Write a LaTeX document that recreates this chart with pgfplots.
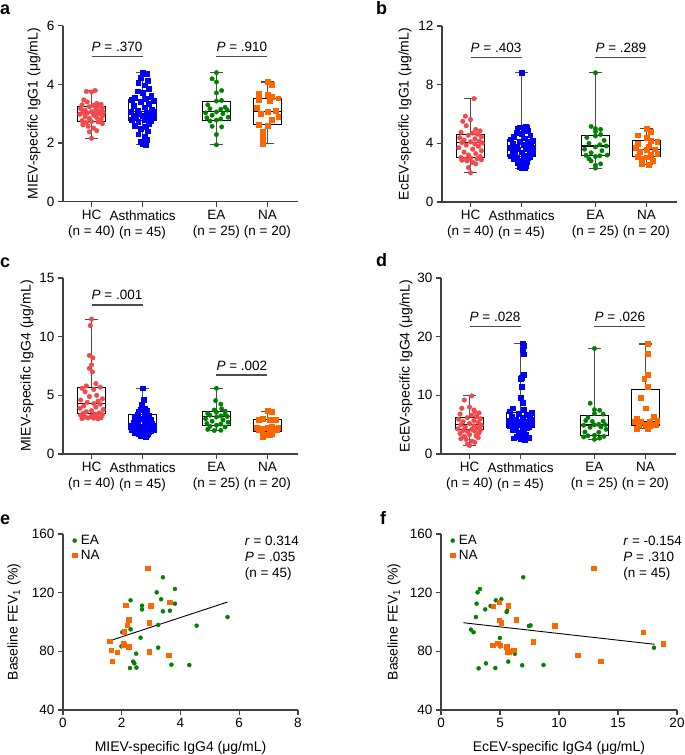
\documentclass[border=0pt]{standalone}
\usepackage{fontspec}
\setmainfont{Liberation Sans}
\usepackage{pgfplots}
\pgfplotsset{compat=1.18}
\usepgfplotslibrary{statistics}
\definecolor{cred}{RGB}{243,72,76}
\definecolor{cblue}{RGB}{0,0,250}
\definecolor{cgreen}{RGB}{0,128,0}
\definecolor{corange}{RGB}{255,102,0}
\newcommand{\fs}{\fontsize{13.5}{16}\selectfont}
\pgfplotsset{
  base/.style={scale only axis, width=235pt, height=176pt, anchor=south west,
    axis lines*=left, tick pos=left,
    axis line style={-, line width=1.1pt, draw=black!75},
    tick align=outside, major tick length=5pt, tick style={line width=1.1pt, black!75},
    tick label style={font=\fs}, label style={font=\fontsize{14}{16}\selectfont},
    /pgf/number format/assume math mode=true, clip=false},
  ylx/.style={ylabel style={at={(axis description cs:#1,0.5)}, anchor=center}},
  boxax/.style={base, xmin=0.44, xmax=5.05, ymin=0, xtick={1,2,3.45,4.45},
    xticklabels={{HC\\(n = 40)},{Asthmatics\\(n = 45)},{EA\\(n = 25)},{NA\\(n = 20)}},
    xticklabel style={align=center}},
  hcm/.style={only marks, mark=*, mark size=2.3pt, color=cred},
  asm/.style={only marks, mark=square*, mark size=2.4pt, color=cblue},
  eam/.style={only marks, mark=*, mark size=2.2pt, color=cgreen},
  nam/.style={only marks, mark=square*, mark size=2.4pt, color=corange},
  eas/.style={only marks, mark=*, mark size=2pt, color=cgreen},
  nas/.style={only marks, mark=square*, mark size=2.3pt, color=corange},
  scax/.style={base, ymin=40, ymax=160, ytick={40,80,120,160},
    ylabel={Baseline FEV\textsubscript{1} (\%)},
    xlabel style={at={(axis description cs:0.5,-0.216)}, anchor=center},
    legend style={at={(0.031,1.0)}, anchor=north west, draw=none, fill=none, font=\fs,
      row sep=2pt, inner sep=0pt, nodes={inner sep=1pt}},
    legend cell align=left,
    legend image code/.code={\path (0pt,0pt) (9pt,0pt); \draw[##1] plot coordinates {(4pt,0pt)};}},
}
\newcommand{\pts}[3]{\addplot[#1] table[row sep=\\, x expr=\thisrow{d}*0.85+#2, y=v]{#3};}
\newcommand{\bx}[6]{\addplot[draw=black, line width=1.1pt, boxplot/draw direction=y,
  boxplot/every whisker/.style={draw=black!70},
  boxplot prepared={draw position=#1, lower whisker=#2, lower quartile=#3, median=#4,
  upper quartile=#5, upper whisker=#6, box extend=0.55, whisker extend=0.25}] coordinates {};}
\newcommand{\pbar}[4]{\draw[line width=1.1pt, black!70] (axis cs:#1,#3) -- (axis cs:#2,#3);
  \node[anchor=base, font=\fs, inner sep=0pt, yshift=5pt] at (axis cs:{#1/2+#2/2},#3) {\textit{P} = #4};}
\begin{document}
\begin{tikzpicture}
\useasboundingbox (0,0) rectangle (685pt,755pt);
\node[anchor=base west, inner sep=0pt, font=\fontsize{18}{18}\selectfont\bfseries] at (0pt,740pt) {a};
\node[anchor=base west, inner sep=0pt, font=\fontsize{18}{18}\selectfont\bfseries] at (376pt,740pt) {b};
\node[anchor=base west, inner sep=0pt, font=\fontsize{18}{18}\selectfont\bfseries] at (0pt,487pt) {c};
\node[anchor=base west, inner sep=0pt, font=\fontsize{18}{18}\selectfont\bfseries] at (376pt,488pt) {d};
\node[anchor=base west, inner sep=0pt, font=\fontsize{18}{18}\selectfont\bfseries] at (0pt,230pt) {e};
\node[anchor=base west, inner sep=0pt, font=\fontsize{18}{18}\selectfont\bfseries] at (380pt,230pt) {f};

% ---------------- a ----------------
\begin{axis}[boxax, at={(63pt,553.3pt)}, ymax=6, ytick={0,2,4,6},
  ylabel={MIEV-specific IgG1 (μg/mL)}, ylx=-0.1234]
\pts{hcm}{1}{d v\\ 0.08 3.79\\ -0.12 3.76\\ 0 3.74\\ -0.18 3.47\\ -0.1 3.40\\ 0.12 3.35\\ 0.22 3.32\\ -0.22 3.30\\ 0.05 3.28\\ 0.16 3.26\\ -0.05 3.24\\ 0.25 3.20\\ -0.25 3.17\\ 0.1 3.14\\ -0.15 3.12\\ 0.2 3.10\\ 0 3.07\\ -0.2 3.05\\ 0.27 3.04\\ 0.1 3.03\\ -0.1 3.02\\ 0.18 3.00\\ -0.27 2.98\\ 0.05 2.95\\ 0.25 2.92\\ -0.15 2.90\\ 0.12 2.87\\ -0.05 2.84\\ 0.22 2.80\\ -0.22 2.76\\ 0 2.73\\ 0.15 2.72\\ -0.12 2.70\\ 0.25 2.66\\ -0.2 2.62\\ -0.08 2.57\\ 0.05 2.51\\ 0.12 2.42\\ -0.05 2.38\\ 0 2.16\\}
\pts{asm}{2}{d v\\ 0 4.40\\ 0.1 4.35\\ -0.05 4.23\\ 0.12 4.12\\ -0.1 4.05\\ 0.05 3.97\\ 0.15 3.85\\ -0.12 3.77\\ 0 3.71\\ 0.2 3.62\\ -0.18 3.55\\ 0.08 3.50\\ -0.25 3.48\\ 0.25 3.45\\ -0.05 3.40\\ 0.15 3.35\\ -0.2 3.28\\ 0.05 3.22\\ 0.22 3.15\\ -0.12 3.10\\ 0.27 3.08\\ -0.27 3.06\\ 0.1 3.04\\ -0.08 3.00\\ 0.18 2.98\\ -0.2 2.95\\ 0 2.92\\ 0.25 2.90\\ -0.15 2.87\\ 0.12 2.84\\ -0.25 2.80\\ 0.05 2.78\\ 0.2 2.76\\ -0.1 2.72\\ 0.15 2.66\\ -0.18 2.60\\ 0.08 2.55\\ -0.05 2.48\\ 0.12 2.40\\ -0.1 2.30\\ 0.05 2.22\\ 0.1 2.12\\ -0.05 2.05\\ 0 1.98\\ 0.08 1.94\\}
\pts{eam}{3.45}{d v\\ 0 4.40\\ -0.1 4.19\\ 0 4.08\\ 0.12 3.79\\ 0 3.71\\ 0.12 3.45\\ 0 3.43\\ -0.2 3.30\\ 0.2 3.22\\ -0.15 3.17\\ 0.1 3.15\\ 0.25 3.12\\ 0 3.06\\ -0.25 3.03\\ 0.15 3.00\\ -0.1 2.95\\ 0.27 2.88\\ -0.22 2.86\\ 0.1 2.82\\ 0 2.78\\ -0.15 2.75\\ -0.1 2.57\\ 0.12 2.55\\ 0 2.29\\ 0 1.94\\}
\pts{nam}{4.45}{d v\\ 0 4.08\\ 0.1 3.99\\ -0.2 3.67\\ 0 3.65\\ 0.1 3.57\\ 0.25 3.53\\ -0.2 3.47\\ 0.05 3.44\\ -0.25 3.20\\ 0.2 3.10\\ 0 3.08\\ -0.15 3.00\\ 0.25 2.90\\ 0.1 2.80\\ -0.2 2.62\\ 0 2.60\\ -0.1 2.40\\ -0.1 2.25\\ -0.1 2.08\\ -0.1 1.98\\}
\bx{1}{2.16}{2.73}{3.03}{3.26}{3.79}
\bx{2}{1.94}{2.77}{3.06}{3.49}{4.40}
\bx{3.45}{1.94}{2.77}{3.06}{3.42}{4.40}
\bx{4.45}{1.98}{2.62}{3.09}{3.53}{4.08}
\pbar{1}{2}{4.94}{.370}
\pbar{3.45}{4.45}{4.94}{.910}
\end{axis}

% ---------------- b ----------------
\begin{axis}[boxax, at={(442pt,553pt)}, ymax=12, ytick={0,4,8,12},
  ylabel={EcEV-specific IgG1 (μg/mL)}, ylx=-0.157]
\pts{hcm}{1}{d v\\ 0.08 7.05\\ -0.12 5.85\\ 0 5.62\\ -0.18 5.50\\ -0.1 5.20\\ 0.12 4.95\\ 0.22 4.85\\ -0.22 4.75\\ 0.05 4.70\\ 0.16 4.62\\ -0.05 4.55\\ 0.25 4.45\\ -0.25 4.38\\ 0.1 4.30\\ -0.15 4.22\\ 0.2 4.15\\ 0 4.10\\ -0.2 4.05\\ 0.27 4.02\\ 0.1 3.95\\ -0.1 3.88\\ 0.18 3.80\\ -0.27 3.70\\ 0.05 3.60\\ 0.25 3.50\\ -0.15 3.40\\ 0.12 3.30\\ -0.05 3.20\\ 0.22 3.10\\ -0.22 3.03\\ 0 3.00\\ 0.15 2.95\\ -0.12 2.92\\ 0.25 2.88\\ -0.2 2.85\\ -0.08 2.80\\ 0.05 2.70\\ 0.12 2.60\\ -0.05 2.35\\ 0 2.00\\}
\pts{asm}{2}{d v\\ 0 8.81\\ 0.1 5.15\\ -0.05 5.10\\ 0.12 5.05\\ -0.1 5.00\\ 0.05 4.95\\ 0.15 4.85\\ -0.12 4.75\\ 0 4.65\\ 0.2 4.55\\ -0.18 4.45\\ 0.08 4.35\\ -0.25 4.28\\ 0.25 4.20\\ -0.05 4.12\\ 0.15 4.05\\ -0.2 3.98\\ 0.05 3.90\\ 0.22 3.82\\ -0.12 3.76\\ 0.27 3.72\\ -0.27 3.70\\ 0.1 3.66\\ -0.08 3.60\\ 0.18 3.55\\ -0.2 3.48\\ 0 3.40\\ 0.25 3.32\\ -0.15 3.25\\ 0.12 3.18\\ -0.25 3.12\\ 0.05 3.10\\ 0.2 3.08\\ -0.1 3.05\\ 0.15 3.00\\ -0.18 2.95\\ 0.08 2.88\\ -0.05 2.80\\ 0.12 2.72\\ -0.1 2.65\\ 0.05 2.58\\ 0.1 2.50\\ -0.05 2.42\\ 0 2.35\\ 0.08 2.31\\}
\pts{eam}{3.45}{d v\\ 0 8.81\\ -0.1 5.15\\ 0 5.00\\ 0.12 4.95\\ 0 4.80\\ 0.12 4.60\\ 0 4.50\\ -0.2 4.40\\ 0.2 4.20\\ -0.15 4.00\\ 0.1 3.90\\ 0.25 3.82\\ 0 3.75\\ -0.25 3.60\\ 0.15 3.50\\ -0.1 3.35\\ 0.27 3.20\\ -0.22 3.18\\ 0.1 3.15\\ 0 3.10\\ -0.15 2.95\\ -0.1 2.80\\ 0.12 2.60\\ 0 2.50\\ 0 2.31\\}
\pts{nam}{4.45}{d v\\ 0 5.02\\ 0.1 4.80\\ -0.2 4.55\\ 0 4.40\\ 0.1 4.18\\ 0.25 4.10\\ -0.2 3.95\\ 0.05 3.80\\ -0.25 3.70\\ 0.2 3.60\\ 0 3.55\\ -0.15 3.45\\ 0.25 3.30\\ 0.1 3.20\\ -0.2 3.10\\ 0 3.05\\ -0.1 2.95\\ 0.15 2.80\\ -0.1 2.60\\ 0.05 2.53\\}
\bx{1}{2.00}{3.03}{4.05}{4.61}{7.05}
\bx{2}{2.31}{3.10}{3.71}{4.27}{8.81}
\bx{3.45}{2.31}{3.16}{3.82}{4.54}{8.81}
\bx{4.45}{2.53}{3.10}{3.59}{4.18}{5.02}
\pbar{1}{2}{9.83}{.403}
\pbar{3.45}{4.45}{9.83}{.289}
\end{axis}

% ---------------- c ----------------
\begin{axis}[boxax, at={(63pt,301pt)}, ymax=15, ytick={0,5,10,15},
  ylabel={MIEV-specific IgG4 (μg/mL)}, ylx=-0.153]
\pts{hcm}{1}{d v\\ 0 11.5\\ -0.03 10.95\\ -0.05 8.4\\ 0.03 8.2\\ 0 7.6\\ -0.05 7.3\\ 0.02 7.0\\ 0.1 6.0\\ -0.12 5.8\\ 0.2 5.7\\ -0.22 5.6\\ 0.05 5.5\\ -0.15 5.3\\ 0.12 5.0\\ -0.05 4.9\\ 0.25 4.7\\ -0.25 4.6\\ 0.15 4.5\\ -0.1 4.4\\ 0.05 4.3\\ 0.2 4.25\\ -0.18 4.1\\ 0.1 4.0\\ -0.27 3.9\\ 0.27 3.8\\ 0 3.7\\ -0.12 3.6\\ 0.18 3.5\\ -0.2 3.45\\ 0.08 3.4\\ 0.25 3.35\\ -0.25 3.3\\ 0 3.25\\ 0.12 3.2\\ -0.15 3.15\\ 0.22 3.1\\ -0.08 3.08\\ 0.05 3.05\\ -0.22 3.02\\ 0.15 3.0\\}
\pts{asm}{2}{d v\\ 0 5.6\\ 0.02 4.6\\ -0.02 4.2\\ 0.05 3.9\\ -0.05 3.8\\ 0.1 3.7\\ -0.1 3.6\\ 0.05 3.5\\ -0.12 3.4\\ 0.15 3.3\\ -0.18 3.2\\ 0.08 3.1\\ -0.05 3.0\\ 0.2 2.9\\ -0.15 2.8\\ 0.1 2.75\\ -0.2 2.7\\ 0.05 2.6\\ 0.22 2.55\\ -0.12 2.5\\ 0.27 2.45\\ -0.27 2.4\\ 0.1 2.35\\ -0.08 2.3\\ 0.18 2.25\\ -0.2 2.2\\ 0 2.15\\ 0.25 2.1\\ -0.15 2.08\\ 0.12 2.05\\ -0.25 2.02\\ 0.05 2.0\\ 0.2 1.95\\ -0.1 1.9\\ 0.15 1.85\\ -0.18 1.82\\ 0.08 1.78\\ -0.05 1.75\\ 0.12 1.7\\ -0.1 1.68\\ 0.05 1.65\\ 0.1 1.6\\ -0.05 1.58\\ 0 1.55\\ 0.08 1.5\\}
\pts{eam}{3.45}{d v\\ 0 5.6\\ -0.02 4.55\\ 0.1 4.25\\ 0.12 3.85\\ -0.05 3.75\\ 0.2 3.65\\ 0 3.55\\ -0.2 3.45\\ 0.2 3.4\\ -0.15 3.3\\ 0.1 3.25\\ 0.25 3.2\\ 0 3.15\\ -0.25 3.0\\ 0.15 2.9\\ -0.1 2.8\\ 0.27 2.7\\ -0.22 2.6\\ 0.1 2.55\\ 0 2.45\\ -0.15 2.35\\ 0.2 2.3\\ -0.2 2.1\\ 0.1 2.02\\ -0.05 2.0\\}
\pts{nam}{4.45}{d v\\ 0 3.66\\ 0.1 3.62\\ -0.1 3.0\\ 0.05 2.95\\ 0.2 2.95\\ -0.2 2.9\\ 0.1 2.3\\ -0.25 2.25\\ 0.25 2.25\\ 0 2.25\\ -0.1 2.2\\ 0.15 2.15\\ -0.2 2.1\\ 0.05 2.05\\ 0.22 2.05\\ -0.12 1.85\\ 0.1 1.7\\ -0.05 1.65\\ 0.05 1.6\\ -0.1 1.5\\}
\bx{1}{3.0}{3.47}{4.29}{5.65}{11.5}
\bx{2}{1.5}{2.05}{2.5}{3.35}{5.6}
\bx{3.45}{2.0}{2.45}{3.18}{3.64}{5.6}
\bx{4.45}{1.5}{1.95}{2.2}{2.95}{3.66}
\pbar{1}{2}{12.7}{.001}
\pbar{3.45}{4.45}{6.73}{.002}
\end{axis}

% ---------------- d ----------------
\begin{axis}[boxax, at={(441pt,301pt)}, ymax=30, ytick={0,10,20,30},
  ylabel={EcEV-specific IgG4 (μg/mL)}, ylx=-0.149]
\pts{hcm}{1}{d v\\ 0.05 9.9\\ -0.12 9.2\\ 0 8.0\\ -0.18 7.8\\ 0.1 7.5\\ 0.12 7.2\\ 0.22 7.0\\ -0.22 6.8\\ 0.05 6.6\\ 0.16 6.4\\ -0.05 6.2\\ 0.25 6.0\\ -0.25 5.9\\ 0.1 5.7\\ -0.15 5.5\\ 0.2 5.4\\ 0 5.2\\ -0.2 5.0\\ 0.27 4.9\\ 0.1 4.8\\ -0.1 4.6\\ 0.18 4.5\\ -0.27 4.3\\ 0.05 4.2\\ 0.25 4.1\\ -0.15 4.0\\ 0.12 3.9\\ -0.05 3.8\\ 0.22 3.6\\ -0.22 3.5\\ 0 3.3\\ 0.15 3.1\\ -0.12 3.0\\ 0.2 2.8\\ -0.2 2.6\\ -0.08 2.5\\ 0.05 2.2\\ 0.12 2.0\\ -0.05 1.7\\ 0 1.45\\}
\pts{asm}{2}{d v\\ 0.05 18.9\\ 0.08 18.5\\ 0.05 17.8\\ 0.08 17.0\\ 0.08 13.5\\ 0.02 13.0\\ 0.0 12.8\\ 0.02 11.5\\ 0.0 9.6\\ 0.05 8.8\\ -0.18 7.8\\ 0.08 7.5\\ -0.25 7.3\\ 0.25 7.1\\ -0.05 6.9\\ 0.15 6.6\\ -0.2 6.4\\ 0.05 6.2\\ 0.22 6.0\\ -0.12 5.9\\ 0.27 5.8\\ -0.27 5.7\\ 0.1 5.6\\ -0.08 5.5\\ 0.18 5.4\\ -0.2 5.3\\ 0 5.2\\ 0.25 5.1\\ -0.15 5.0\\ 0.12 4.9\\ -0.25 4.8\\ 0.05 4.7\\ 0.2 4.6\\ -0.1 4.5\\ 0.15 4.4\\ -0.18 4.2\\ 0.08 4.0\\ -0.05 3.6\\ 0.12 3.3\\ -0.1 3.0\\ 0.05 2.9\\ 0.2 2.8\\ -0.15 2.7\\ 0 2.6\\ 0.1 2.5\\}
\pts{eam}{3.45}{d v\\ 0 18.0\\ -0.1 8.65\\ 0 7.55\\ 0.12 7.45\\ 0 6.9\\ 0.2 6.8\\ -0.15 6.2\\ -0.2 5.7\\ 0.2 5.6\\ -0.05 5.55\\ 0.1 5.05\\ 0.25 5.0\\ 0 4.95\\ -0.25 4.9\\ 0.15 4.6\\ -0.1 4.55\\ 0.27 4.2\\ -0.22 3.75\\ 0.1 3.7\\ 0 3.2\\ -0.15 3.1\\ 0.22 3.0\\ -0.25 2.9\\ 0.12 2.7\\ 0 2.5\\}
\pts{nam}{4.45}{d v\\ 0.05 18.75\\ 0.05 17.1\\ 0.05 13.5\\ -0.03 12.9\\ 0.05 11.5\\ -0.1 9.6\\ 0.0 7.8\\ 0.2 6.3\\ -0.2 6.1\\ 0.27 5.7\\ 0.1 5.6\\ -0.1 5.55\\ -0.25 5.5\\ 0.15 5.05\\ 0.0 5.0\\ -0.15 4.95\\ 0.25 4.9\\ 0.1 4.75\\ -0.2 4.35\\ 0.05 4.35\\}
\bx{1}{1.45}{4.1}{5.0}{6.26}{9.9}
\bx{2}{2.5}{4.5}{5.6}{7.11}{18.9}
\bx{3.45}{2.5}{3.1}{4.95}{6.5}{18.0}
\bx{4.45}{4.35}{4.9}{5.6}{11.04}{18.75}
\pbar{1}{2}{21.7}{.028}
\pbar{3.45}{4.45}{21.7}{.026}
\end{axis}

% ---------------- e ----------------
\begin{axis}[scax, at={(63pt,45pt)}, xmin=0, xmax=8, xtick={0,2,4,6,8},
  xlabel={MIEV-specific IgG4 (μg/mL)}, ylx=-0.2085]
\addplot[eas] coordinates {(3.40,130.5) (3.81,122.5) (3.19,120.2) (3.34,115.5) (2.30,114.8) (2.69,111.1) (2.69,108.6) (3.81,112.5) (3.40,107.3) (3.64,107.7) (5.60,103.4) (3.24,98.0) (4.55,97.5) (2.30,95.0) (2.02,93.0) (2.64,89.3) (1.99,83.4) (3.24,82.5) (2.49,78.4) (2.39,73.0) (2.43,71.8) (3.69,70.9) (4.30,70.7) (2.28,68.6) (2.50,68.9)};
\addplot[nas] coordinates {(2.89,136.8) (2.14,111.4) (2.99,111.1) (3.64,113.6) (2.24,101.4) (2.18,97.7) (2.94,99.5) (2.08,93.2) (1.59,86.8) (2.05,85.5) (2.05,84.3) (2.24,83.0) (1.64,80.7) (1.84,79.3) (2.94,79.8) (3.60,77.5) (1.68,73.2) (2.06,85.0) (2.19,97.9) (2.25,101.2)};
\addplot[black, line width=0.9pt] coordinates {(1.59,87.2) (5.60,113.6)};
\legend{EA,NA}
\node[anchor=base west, font=\fs, inner sep=0pt] at (rel axis cs:0.773,0.935) {\textit{r} = 0.314};
\node[anchor=base west, font=\fs, inner sep=0pt] at (rel axis cs:0.773,0.844) {\textit{P} = .035};
\node[anchor=base west, font=\fs, inner sep=0pt] at (rel axis cs:0.773,0.753) {(n = 45)};
\end{axis}

% ---------------- f ----------------
\begin{axis}[scax, width=236pt, at={(441pt,45pt)}, xmin=0, xmax=20, xtick={0,5,10,15,20},
  xlabel={EcEV-specific IgG4 (μg/mL)}, ylx=-0.199]
\addplot[eas] coordinates {(6.97,130.5) (3.30,122.5) (3.10,120.2) (5.11,115.5) (4.65,114.8) (3.02,112.5) (4.20,110.9) (5.61,107.7) (5.56,106.8) (3.75,108.6) (2.96,103.4) (7.59,97.7) (7.45,97.3) (2.54,94.8) (2.76,93.0) (4.99,89.1) (4.99,83.4) (18.05,82.5) (6.26,78.4) (3.81,71.8) (5.70,73.0) (6.88,70.5) (8.69,70.7) (3.19,68.4) (4.60,68.6)};
\addplot[nas] coordinates {(12.95,136.8) (4.94,113.6) (4.43,110.9) (5.70,111.1) (4.94,101.1) (5.11,99.5) (6.38,101.4) (9.65,97.3) (17.12,93.0) (7.81,86.6) (18.82,85.2) (4.40,84.3) (4.80,85.5) (5.02,84.3) (5.56,83.0) (5.61,79.5) (5.75,79.8) (6.15,80.7) (11.57,77.5) (13.54,73.2)};
\addplot[black, line width=0.9pt] coordinates {(1.89,99.5) (18.1,84.8)};
\legend{EA,NA}
\node[anchor=base west, font=\fs, inner sep=0pt] at (rel axis cs:0.772,0.935) {\textit{r} = -0.154};
\node[anchor=base west, font=\fs, inner sep=0pt] at (rel axis cs:0.772,0.844) {\textit{P} = .310};
\node[anchor=base west, font=\fs, inner sep=0pt] at (rel axis cs:0.772,0.753) {(n = 45)};
\end{axis}
\end{tikzpicture}
\end{document}
